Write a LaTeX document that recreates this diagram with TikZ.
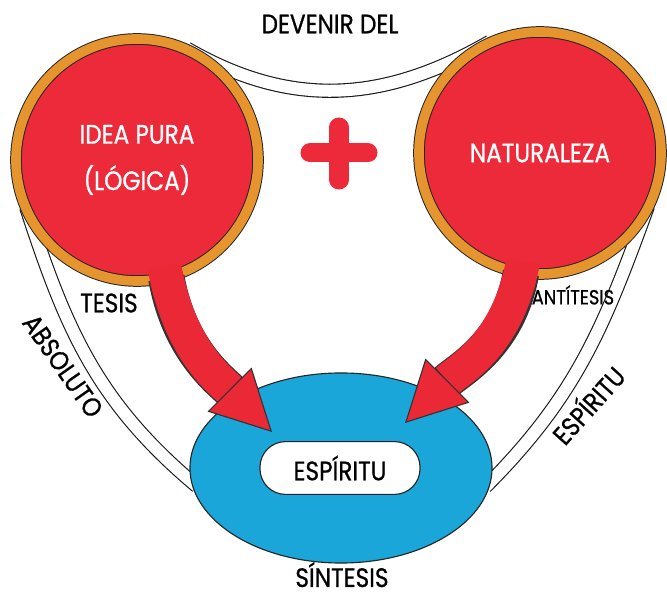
\documentclass[tikz,border=0pt]{standalone}
\usepackage{fontspec}
\newfontfamily\lblfont[FakeStretch=0.87, FakeBold=0.8]{Poppins}
\usetikzlibrary{arrows.meta,positioning,shapes.geometric,backgrounds}
\definecolor{ballred}{RGB}{236,42,58}
\definecolor{ringorange}{RGB}{230,148,46}
\definecolor{sintblue}{RGB}{26,166,216}
\definecolor{arrred}{RGB}{234,40,54}

\begin{document}
\begin{tikzpicture}[
    x=0.025cm, y=0.025cm,
    ball/.style={circle, draw=black!85, line width=0.7pt, double=ringorange, double distance=0.24cm, fill=ballred, minimum size=6.05cm, align=center, text=white, font=\lblfont\fontsize{19}{33}\selectfont},
    sint/.style={ellipse, draw=black!85, line width=0.8pt, fill=sintblue, minimum width=7.55cm, minimum height=4.75cm},
    spiritbox/.style={draw=black!85, line width=0.8pt, fill=white, rounded corners=0.64cm, minimum width=4cm, minimum height=1.32cm, font=\lblfont\fontsize{19}{20}\selectfont},
    lbl/.style={inner sep=0pt, font=\lblfont\fontsize{19}{20}\selectfont},
    smalllbl/.style={inner sep=0pt, font=\lblfont\fontsize{14.5}{16}\selectfont},
    twoline/.style={draw=black!90, line width=0.8pt, double=white, double distance=0.3cm, shorten <=-0.2cm, shorten >=-0.2cm},
    plusbar/.style={draw=ballred, line width=0.475cm, line cap=round},
    bigarrow/.style={draw=arrred, line width=0.85cm, shorten <=-0.3cm,
        -{Triangle[length=1.5cm, width=1.55cm, line width=0.8pt, color=black!80, fill=arrred]},
        preaction={draw=black!80, line width=0.91cm, arrows=-, shorten <=0pt, shorten >=1.45cm}},
]
    \useasboundingbox (0,0) rectangle (667,592);

    % Circles and synthesis
    \node[ball] (idea) at (137,432) {IDEA PURA\\(LÓGICA)};
    \node[ball] (natur) at (540,439) {NATURALEZA};
    \node[sint] (sint) at (341,124) {};
    \node[spiritbox] (spirit) at (340,124) {ESPÍRITU};

    % Labels
    \node[lbl] (devenir) at (330,568) {DEVENIR DEL};
    \node[lbl] (tesis) at (109,289) {TESIS};
    \node[smalllbl] (antit) at (573,297) {ANTÍTESIS};
    \node[lbl, rotate=-55] (absol) at (63,226) {ABSOLUTO};
    \node[lbl, rotate=48] (espir) at (587,188) {ESPÍRITU};
    \node[lbl, anchor=base] (sintesis) at (342,5) {SÍNTESIS};

    % Double lines
    \begin{pgfonlayer}{background}
        \draw[twoline] (idea.62) to[out=-30, in=-150] (natur.118);
        \draw[twoline] (idea.207) to[out=-72, in=140] (sint.185);
        \draw[twoline] (natur.-30) to[out=-110, in=45] (sint.-5);
    \end{pgfonlayer}

    % Plus sign
    \draw[plusbar] (310,439) -- (368,439);
    \draw[plusbar] (339,465) -- (339,412);

    % Arrows
    \coordinate (tipL) at (272,160);
    \coordinate (tipR) at (405,169);
    \draw[bigarrow] (idea.-76) to[out=-80, in=135] (tipL);
    \draw[bigarrow] (natur.-99) to[out=-100, in=45] (tipR);
\end{tikzpicture}
\end{document}
